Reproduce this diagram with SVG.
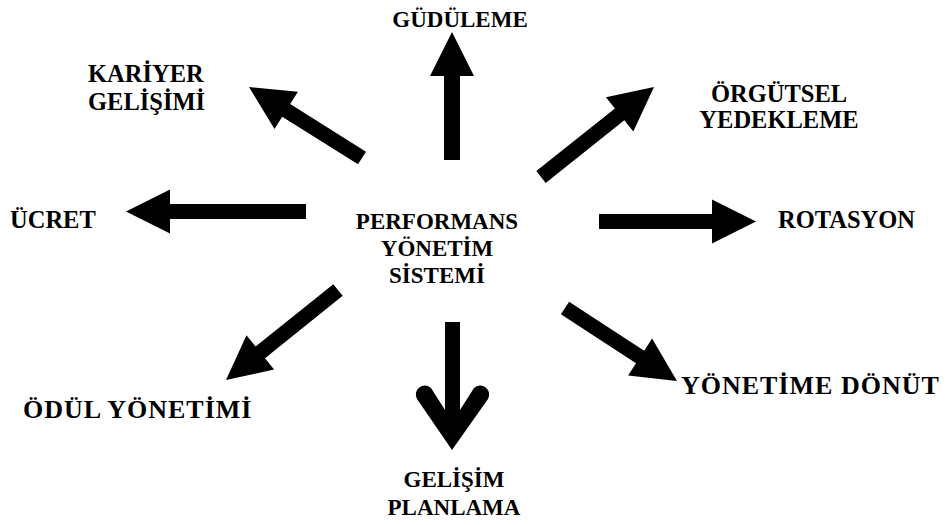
<svg xmlns="http://www.w3.org/2000/svg" width="949" height="525" viewBox="0 0 949 525">
<style>
text{font-family:"Liberation Serif","Times New Roman",serif;font-weight:bold;font-size:23px;fill:#000}
.l{font-size:24.5px}
.b{font-size:26px;letter-spacing:1px}
.arr{fill:#000}
.m{text-anchor:middle}
</style>
<rect width="949" height="525" fill="#fff"/>
<g id="connectors">
<polygon class="arr" points="452,32 474,76 460,76 460,160 444,160 444,76 430,76"/>
<polygon class="arr" points="599,214 712,214 712,199.5 756,221.5 712,243.5 712,229 599,229"/>
<polygon class="arr" points="126,211.5 170,189.5 170,204 306,204 306,219 170,219 170,233.5"/>
<polygon class="arr" points="249,87 297.9,91.8 290.2,104.1 366,151.7 358,164.3 282.2,116.7 274.5,129"/>
<polygon class="arr" points="654,87 605.9,97.2 614.9,108.5 536.3,171.1 545.7,182.9 624.3,120.3 633.3,131.6"/>
<polygon class="arr" points="226,380 246.5,335.3 255.6,346.6 333.3,284.2 342.7,295.8 265,358.2 274.1,369.5"/>
<polygon class="arr" points="677,381 652.1,338.6 644.2,350.7 569.1,301.7 560.9,314.3 636,363.3 628.1,375.4"/>
<path class="arr" d="M452,450 L417,399 A9,9 0 0 1 431,388 L445,410 L445,322 L460,322 L460,410 L474,388 A9,9 0 0 1 488,399 Z"/>
</g>
<g id="center"><text class="m" x="437" y="229">PERFORMANS</text><text class="m" x="437" y="256">YÖNETİM</text><text class="m" x="437" y="283">SİSTEMİ</text></g>
<g id="gudüleme"><text class="m" x="460" y="27">GÜDÜLEME</text></g>
<g id="kariyer"><text class="l" x="88" y="82">KARİYER</text><text class="l" x="88" y="110">GELİŞİMİ</text></g>
<g id="orgutsel"><text class="m l" x="779" y="102">ÖRGÜTSEL</text><text class="m l" x="779" y="128">YEDEKLEME</text></g>
<g id="ucret"><text class="l" x="10" y="228">ÜCRET</text></g>
<g id="rotasyon"><text class="l" x="778" y="228">ROTASYON</text></g>
<g id="odul"><text class="b" x="23" y="418">ÖDÜL YÖNETİMİ</text></g>
<g id="donut"><text class="b" x="681" y="394">YÖNETİME DÖNÜT</text></g>
<g id="gelisim"><text class="m" x="454" y="487">GELİŞİM</text><text class="m" x="454" y="515">PLANLAMA</text></g>
</svg>
